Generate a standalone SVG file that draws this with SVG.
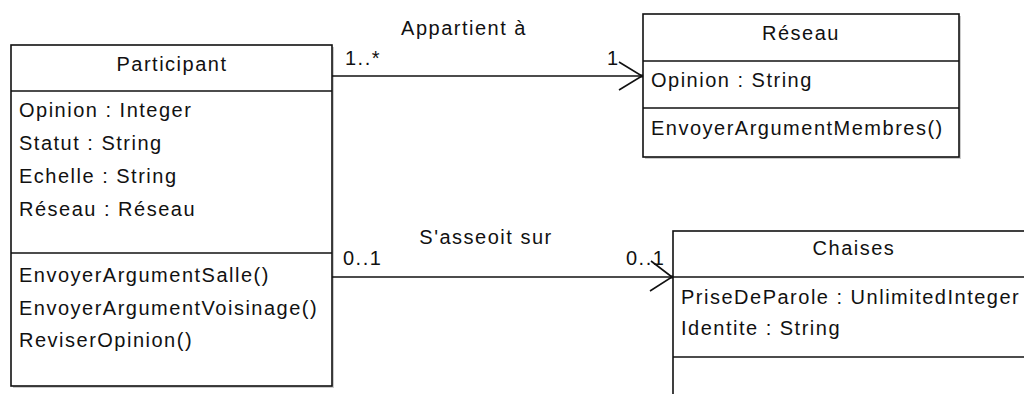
<svg xmlns="http://www.w3.org/2000/svg" width="1024" height="394" viewBox="0 0 1024 394">
<style>
text{font-family:"Liberation Sans",Arial,sans-serif;font-size:20px;fill:#111;letter-spacing:1.5px}
.t{text-anchor:middle}
.box{fill:#fff;stroke:#111;stroke-width:1.6}
.sh{fill:#ccc}
.sep{stroke:#111;stroke-width:1.6}
.edge{stroke:#111;stroke-width:1.6;fill:none}
</style>
<rect width="1024" height="394" fill="#fff"/>
<g id="Participant">
<rect class="sh" x="13" y="47" width="321" height="341"/>
<rect class="box" x="11" y="45" width="321" height="341"/>
<line class="sep" x1="11" y1="91" x2="332" y2="91"/>
<line class="sep" x1="11" y1="253" x2="332" y2="253"/>
<text class="t" x="172" y="71">Participant</text>
<text x="19" y="117">Opinion : Integer</text>
<text x="19" y="150">Statut : String</text>
<text x="19" y="183">Echelle : String</text>
<text x="19" y="216">Réseau : Réseau</text>
<text x="19" y="282">EnvoyerArgumentSalle()</text>
<text x="19" y="315">EnvoyerArgumentVoisinage()</text>
<text x="19" y="347">ReviserOpinion()</text>
</g>
<g id="Reseau">
<rect class="sh" x="645" y="16" width="316" height="143"/>
<rect class="box" x="643" y="14" width="316" height="143"/>
<line class="sep" x1="643" y1="61" x2="959" y2="61"/>
<line class="sep" x1="643" y1="108" x2="959" y2="108"/>
<text class="t" x="801" y="40">Réseau</text>
<text x="651" y="87">Opinion : String</text>
<text x="651" y="135">EnvoyerArgumentMembres()</text>
</g>
<g id="Chaises">
<rect class="box" x="673" y="231" width="362" height="180"/>
<line class="sep" x1="673" y1="277" x2="1035" y2="277"/>
<line class="sep" x1="673" y1="357" x2="1035" y2="357"/>
<text class="t" x="854" y="255">Chaises</text>
<text x="681" y="304">PriseDeParole : UnlimitedInteger</text>
<text x="681" y="335">Identite : String</text>
</g>
<g id="connectors">
<line class="edge" x1="332" y1="76" x2="642" y2="76"/>
<polyline class="edge" points="619,62 642,76 619,90"/>
<rect x="640" y="74.5" width="3" height="3" fill="#111"/>
<text class="t" x="464" y="35">Appartient à</text>
<text x="345" y="65">1..*</text>
<text x="607" y="65">1</text>
<line class="edge" x1="332" y1="277" x2="672" y2="277"/>
<polyline class="edge" points="651,261 672,277 650,291"/>
<rect x="670" y="275.5" width="3" height="3" fill="#111"/>
<text class="t" x="486" y="244">S'asseoit sur</text>
<text x="343" y="265">0..1</text>
<text x="626" y="265">0..1</text>
</g>
</svg>
